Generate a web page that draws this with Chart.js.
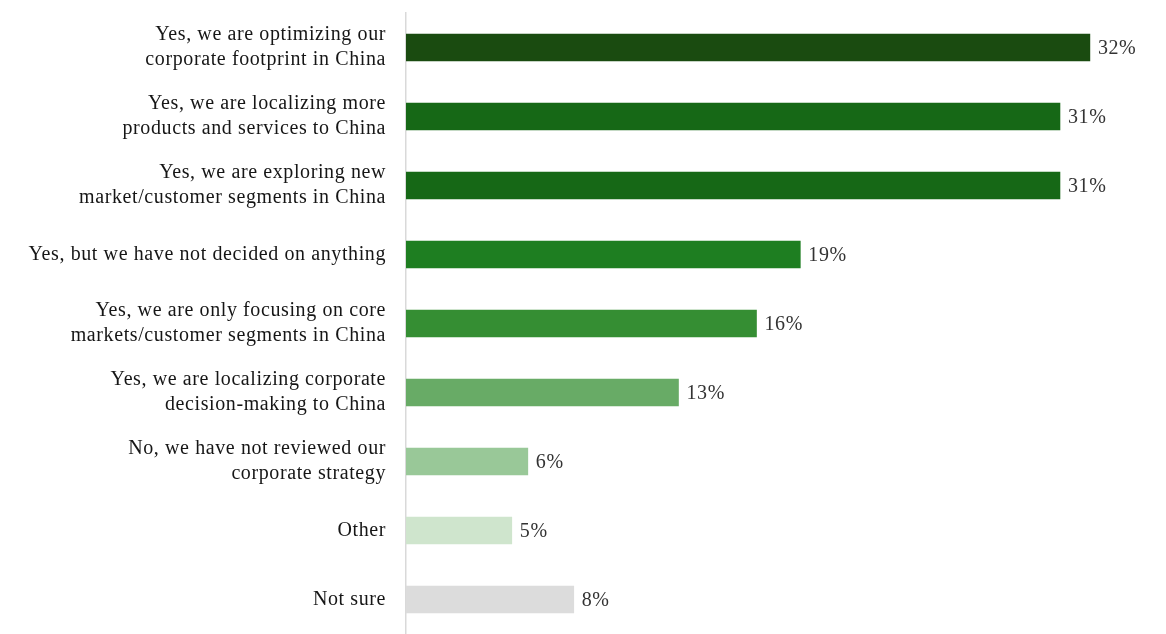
<html>
<head>
<script src="https://cdn.jsdelivr.net/npm/chart.js@4/dist/chart.umd.min.js"></script>
<style>
  body { margin: 0; background: #fff; }
</style>
</head>
<body>

<canvas id="myChart" width="1166" height="634"></canvas>

<script>
    // answer categories (each one split into its lines)
    var answers = [
        ["Yes, we are optimizing our", "corporate footprint in China"],
        ["Yes, we are localizing more", "products and services to China"],
        ["Yes, we are exploring new", "market/customer segments in China"],
        "Yes, but we have not decided on anything",
        ["Yes, we are only focusing on core", "markets/customer segments in China"],
        ["Yes, we are localizing corporate", "decision-making to China"],
        ["No, we have not reviewed our", "corporate strategy"],
        "Other",
        "Not sure"
    ];

    // share of respondents
    var shares = [32.0, 30.6, 30.6, 18.45, 16.4, 12.75, 5.7, 4.95, 7.85];

    // the percentages printed next to the bars
    var shareLabels = ["32%", "31%", "31%", "19%", "16%", "13%", "6%", "5%", "8%"];

    var barColors = ["#1a4b10", "#166816", "#166816", "#1e7e21", "#358e33",
                     "#68ab66", "#99c898", "#cfe5cd", "#dcdcdc"];

    var serif = "'Liberation Serif', 'DejaVu Serif', serif";

    // a little extra tracking so the Times glyphs spread like the original Garamond
    var tracking = {
        id: "tracking",
        beforeDraw: function(chart) {
            chart.ctx.letterSpacing = "0.6px";
        }
    };

    // writes the percentage just past the end of every bar
    var valueLabels = {
        id: "valueLabels",
        afterDatasetsDraw: function(chart) {
            var ctx = chart.ctx;
            var bars = chart.getDatasetMeta(0).data;
            ctx.save();
            ctx.font = "20px " + serif;
            ctx.fillStyle = "#333333";
            ctx.textAlign = "left";
            ctx.textBaseline = "middle";
            bars.forEach(function(bar, i) {
                ctx.fillText(shareLabels[i], bar.x + 8, bar.y + 1);
            });
            ctx.restore();
        }
    };

    new Chart("myChart", {
        type: "bar",
        data: {
            labels: answers,
            datasets: [{
                data: shares,
                backgroundColor: barColors,
                borderWidth: 0,
                barThickness: 27
            }]
        },
        options: {
            indexAxis: "y",
            responsive: false,
            animation: false,
            layout: { padding: { top: 13, right: 12, bottom: 0, left: 0 } },
            plugins: {
                legend: { display: false },
                tooltip: { enabled: false }
            },
            scales: {
                x: {
                    display: false,
                    min: 0,
                    max: 35
                },
                y: {
                    afterFit: function(scale) {
                        scale.width = 406;
                        scale.paddingTop = 0;
                        scale.paddingBottom = 0;
                    },
                    grid: { display: false, drawTicks: false },
                    border: { display: true, color: "#d9d9d9", width: 1.5 },
                    ticks: {
                        padding: 20,
                        color: "#161616",
                        font: { family: serif, size: 20, lineHeight: 1.27 }
                    }
                }
            }
        },
        plugins: [tracking, valueLabels]
    });
</script>

</body>
</html>
